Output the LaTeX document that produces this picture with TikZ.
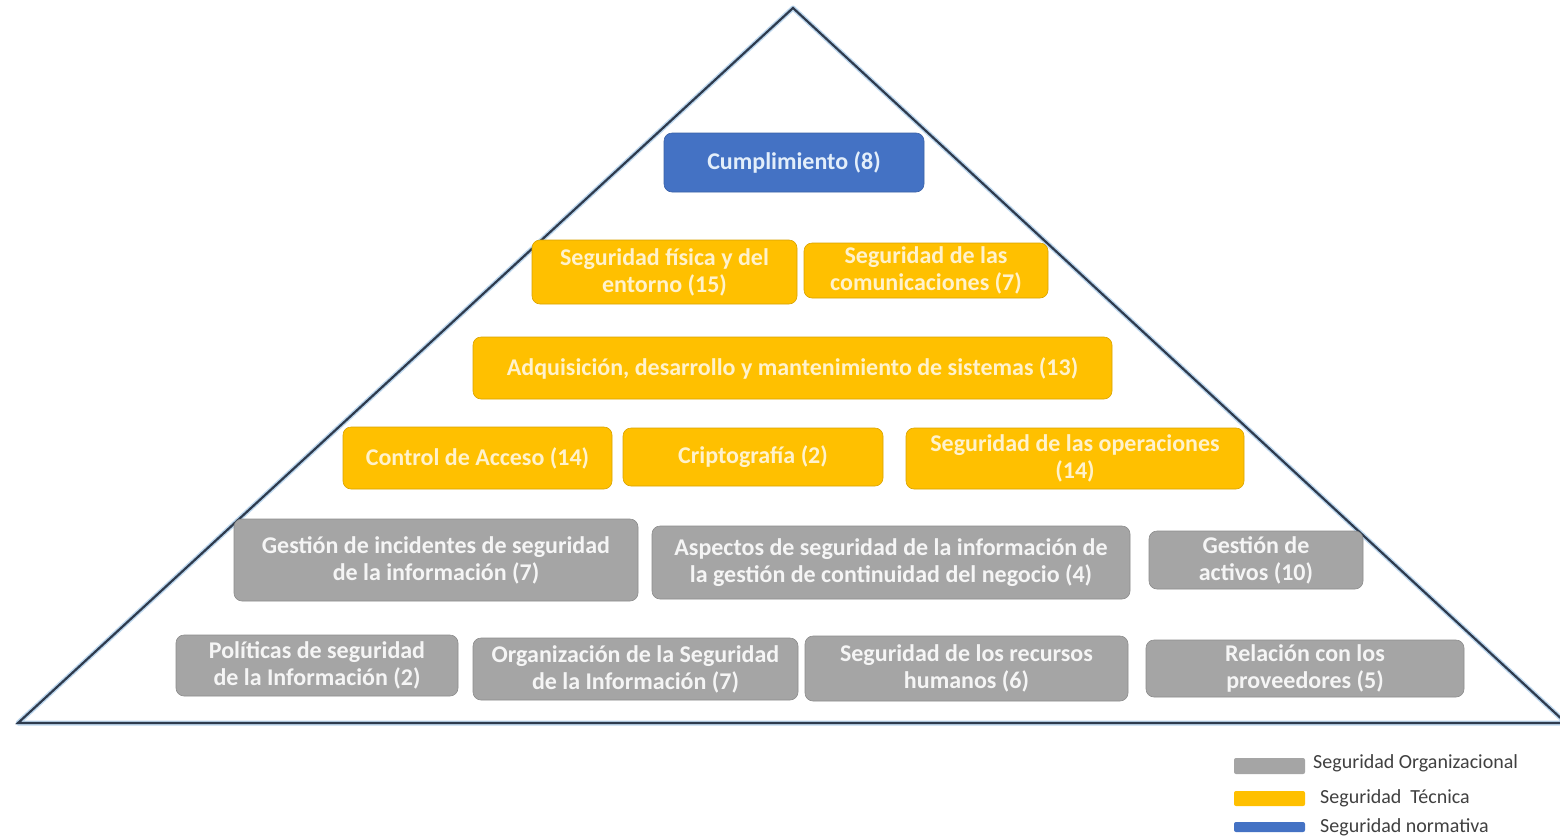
\documentclass[tikz,border=0pt]{standalone}
\usepackage{fontspec}
\setmainfont{Carlito}
\definecolor{cyel}{HTML}{FFC000}
\definecolor{cgray}{HTML}{A5A5A5}
\definecolor{cblue}{HTML}{4472C4}
\definecolor{tline}{HTML}{2E3B4E}
\definecolor{glow}{HTML}{BDD7EE}
\definecolor{tyel}{HTML}{FFF2CC}
\definecolor{tgray}{HTML}{F5F5F5}
\definecolor{tblue}{HTML}{E3EEFA}
\definecolor{legtext}{HTML}{404040}
\tikzset{
  boxbase/.style={rounded corners=8pt, inner sep=0pt, align=center,
    font=\fontsize{24}{27}\selectfont\bfseries},
  ybox/.style={boxbase, fill=cyel, draw=cyel!85!black, line width=0.6pt, text=tyel},
  gbox/.style={boxbase, fill=cgray, draw=cgray!85!black, line width=0.6pt, text=tgray},
  bbox/.style={boxbase, fill=cblue, draw=cblue!85!black, line width=0.6pt, text=tblue},
  legbar/.style={rounded corners=2pt, inner sep=0pt},
  legtxt/.style={anchor=west, inner sep=0pt, text=legtext, font=\fontsize{20}{22}\selectfont},
}
\newcommand{\bx}[7]{% style, name, x1, y1, x2, y2, text
  \node[#1, minimum width={#5-#3}, minimum height={#6-#4}] (#2) at ({(#3+#5)/2},{(#4+#6)/2}) {#7};}
\begin{document}
\begin{tikzpicture}[x=1pt,y=-1pt]
\useasboundingbox (0,0) rectangle (1560,836);
\fill[white] (0,0) rectangle (1560,836);
% triangle
\coordinate (apex) at (793,8);
\coordinate (bl) at (18,723);
\coordinate (br) at (1566,723);
\draw[glow, line width=5pt, line join=round] (bl) -- (apex) -- (br) -- cycle;
\draw[tline, line width=2.2pt, line join=miter] (bl) -- (apex) -- (br) -- cycle;
% boxes
\bx{bbox}{cump}{664}{133}{924}{192}{Cumplimiento (8)}
\bx{ybox}{fis}{532}{240}{797}{304}{Seguridad física y del\\entorno (15)}
\bx{ybox}{com}{804}{243}{1048}{298}{Seguridad de las\\comunicaciones (7)}
\bx{ybox}{adq}{473}{337}{1112}{399}{Adquisición, desarrollo y mantenimiento de sistemas (13)}
\bx{ybox}{acc}{343}{427}{612}{489}{Control de Acceso (14)}
\bx{ybox}{cri}{623}{428}{883}{486}{Criptografía (2)}
\bx{ybox}{ope}{906}{428}{1244}{489}{Seguridad de las operaciones\\(14)}
\bx{gbox}{inc}{234}{519}{638}{601}{Gestión de incidentes de seguridad\\de la información (7)}
\bx{gbox}{asp}{652}{526}{1130}{599}{Aspectos de seguridad de la información de\\la gestión de continuidad del negocio (4)}
\bx{gbox}{act}{1149}{531}{1363}{589}{Gestión de\\activos (10)}
\bx{gbox}{pol}{176}{635}{458}{696}{Políticas de seguridad\\de la Información (2)}
\bx{gbox}{org}{473}{638}{798}{700}{Organización de la Seguridad\\de la Información (7)}
\bx{gbox}{rrhh}{805}{636}{1128}{701}{Seguridad de los recursos\\humanos (6)}
\bx{gbox}{prov}{1146}{640}{1464}{697}{Relación con los\\proveedores (5)}
% legend
\bx{legbar, fill=cgray}{lg}{1234}{758}{1305}{774}{}
\bx{legbar, fill=cyel}{ly}{1234}{791}{1305}{806}{}
\bx{legbar, fill=cblue}{lb}{1234}{822}{1305}{832}{}
\node[legtxt] (lgt) at (1313,763) {Seguridad Organizacional};
\node[legtxt] (lyt) at (1320,798) {Seguridad\ \ Técnica};
\node[legtxt] (lbt) at (1320,827) {Seguridad normativa};
\end{tikzpicture}
\end{document}
